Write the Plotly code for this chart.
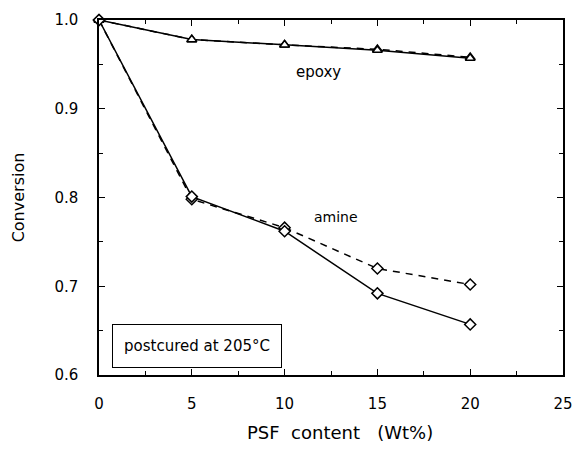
import plotly.graph_objects as go

# PSF content (wt%) and measured conversion for each resin component
psf_content = [0, 5, 10, 15, 20]
epoxy_solid = [1.000, 0.978, 0.972, 0.966, 0.957]
epoxy_dashed = [1.000, 0.978, 0.972, 0.967, 0.958]
amine_solid = [1.000, 0.801, 0.762, 0.692, 0.657]
amine_dashed = [1.000, 0.798, 0.766, 0.720, 0.702]

x_ticks = [0, 5, 10, 15, 20, 25]
y_ticks = [0.6, 0.7, 0.8, 0.9, 1.0]

FONT = "DejaVu Sans, Verdana, sans-serif"

fig = go.Figure()


def add_series(y, symbol, dash):
    fig.add_trace(go.Scatter(
        x=psf_content, y=y, mode="lines+markers",
        line=dict(color="black", width=1.5, dash=dash),
        marker=dict(symbol=symbol, size=8.5, color="white",
                    line=dict(color="black", width=1.5)),
        showlegend=False, cliponaxis=False,
    ))


add_series(epoxy_dashed, "triangle-up", "7px,6px")
add_series(epoxy_solid, "triangle-up", "solid")
add_series(amine_dashed, "diamond", "7px,6px")
add_series(amine_solid, "diamond", "solid")

axis_common = dict(
    showline=True, linecolor="black", linewidth=1.5, mirror="ticks",
    ticks="inside", ticklen=6, tickwidth=1.2, tickcolor="black",
    showgrid=False, zeroline=False,
    tickfont=dict(family=FONT, size=15, color="black"),
)

fig.update_xaxes(
    range=[0, 25], tickvals=x_ticks, ticktext=[str(v) for v in x_ticks],
    minor=dict(dtick=2.5, ticks="inside", ticklen=4, tickcolor="black", tickwidth=1),
    ticklabelstandoff=14,
    **axis_common,
)
fig.update_yaxes(
    range=[0.6, 1.0], tickvals=y_ticks, ticktext=[f"{v:.1f}" for v in y_ticks],
    minor=dict(dtick=0.05, ticks="inside", ticklen=4, tickcolor="black", tickwidth=1),
    title=dict(text="Conversion", font=dict(family=FONT, size=16, color="black"),
               standoff=26),
    ticklabelstandoff=16,
    **axis_common,
)

# x-axis title, placed slightly right of the plot centre
fig.add_annotation(xref="paper", yref="paper", x=0.519, y=-0.163,
                   text="PSF  content   (Wt%)", showarrow=False,
                   xanchor="center", yanchor="middle",
                   font=dict(family=FONT, size=18, color="black"))

fig.add_annotation(x=11.85, y=0.941, text="epoxy", showarrow=False,
                   xanchor="center", yanchor="middle",
                   font=dict(family=FONT, size=15, color="black"))
fig.add_annotation(x=12.76, y=0.778, text="amine", showarrow=False,
                   xanchor="center", yanchor="middle",
                   font=dict(family=FONT, size=14, color="black"))
fig.add_annotation(x=5.3, y=0.633, text="postcured at 205°C", showarrow=False,
                   xanchor="center", yanchor="middle",
                   width=166, height=40, bordercolor="black", borderwidth=1,
                   bgcolor="white",
                   font=dict(family=FONT, size=15, color="black"))

fig.update_layout(
    width=584, height=450,
    margin=dict(l=99, r=11, t=19, b=75),
    paper_bgcolor="white", plot_bgcolor="white",
)

fig.write_html("out.html")
